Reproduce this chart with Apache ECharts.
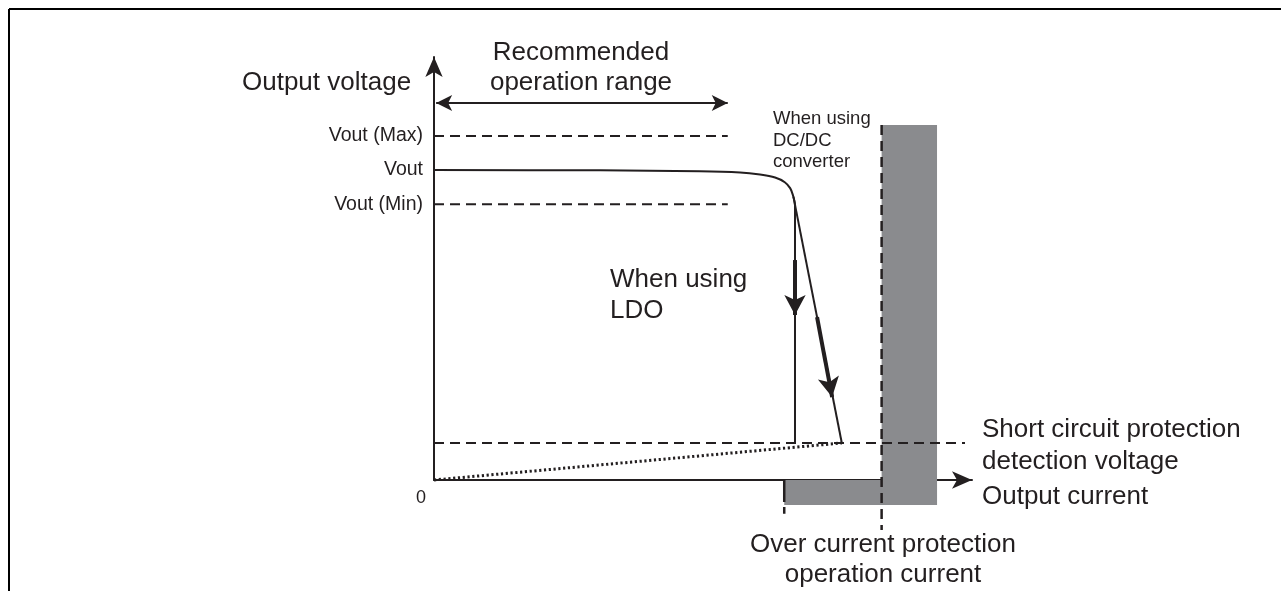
<!DOCTYPE html>
<html><head><meta charset="utf-8">
<script src="https://cdn.jsdelivr.net/npm/echarts@6/dist/echarts.min.js"></script>
<style>html,body{margin:0;padding:0;background:#fff}#c{width:1281px;height:591px}</style>
</head><body><div id="c"></div>
<script>
// ---- data (axis units: x 0..100 = output current, y 0..100 = output voltage) ----
const yTickValues = [65.2, 73.3, 81.3];
const yTickLabels = ['Vout (Min)', 'Vout', 'Vout (Max)'];
const originLabel = '0';
const recommendedRangeX = [0.4, 54.6];
const recommendedArrowY = 89.1;
const voutCurveX = [0, 30.9, 49.4, 56.9, 60.6, 63.4, 65.2, 66.2, 66.7, 67.1, 67.1];
const voutCurveY = [73.3, 73.2, 73.0, 72.7, 72.2, 71.5, 70.4, 69.0, 67.4, 65.0, 8.75];
const dcdcX = [66.8, 75.8];
const dcdcY = [67.0, 8.75];
const shortCircuitY = 8.75;
const shortCircuitXEnd = 98.7;
const foldbackX = [0, 75.8];
const foldbackY = [0, 8.75];
const ldoArrowX = [67.1, 67.1];
const ldoArrowY = [52.0, 39.0];
const dcdcArrowX = [71.2, 74.0];
const dcdcArrowY = [38.5, 19.6];
const ocpX = 83.2;
const ocpLowX = 65.1;
const grayTop = 83.9, grayBottom = -5.9, grayRight = 93.5;
const ocpLineTop = 83.9, ocpLineBottom = -11.8, ocpLowBottom = -8.0;

const INK = '#231f20';
const FONT = "'Liberation Sans', Arial, Helvetica, sans-serif";
const GRAY = '#8a8b8e';

const zip = (xs, ys) => xs.map((x, i) => [x, ys[i]]);
const dashed = { color: INK, width: 2, type: [10, 6] };

const chart = echarts.init(document.getElementById('c'));
chart.setOption({
  animation: false,
  backgroundColor: '#fff',
  grid: { left: 434, top: 57, width: 538, height: 423, containLabel: false },
  xAxis: {
    type: 'value', min: 0, max: 100,
    axisLine: { show: true, lineStyle: { color: INK, width: 2 }, symbol: ['none', 'arrow'], symbolSize: [13, 20], symbolOffset: [0, 0] },
    axisTick: { show: false }, splitLine: { show: false },
    axisLabel: { show: true, customValues: [0], formatter: () => originLabel, align: 'right', padding: [0, 8, 0, 0], margin: 9, fontSize: 18, fontFamily: FONT, color: INK }
  },
  yAxis: {
    type: 'value', min: 0, max: 100,
    axisLine: { show: true, lineStyle: { color: INK, width: 2 }, symbol: ['none', 'arrow'], symbolSize: [13, 20], symbolOffset: [0, 0] },
    axisTick: { show: false }, splitLine: { show: false },
    axisLabel: {
      show: true, customValues: yTickValues,
      formatter: (v) => { const i = yTickValues.findIndex(t => Math.abs(t - v) < 1e-6); return i >= 0 ? yTickLabels[i] : ''; },
      margin: 11, fontSize: 19.5, fontFamily: FONT, color: INK
    }
  },
  series: [
    { // gray over-current regions
      type: 'custom', z: 1, silent: true,
      data: [[ocpX, grayTop, grayRight, grayBottom], [ocpLowX, 0, grayRight, grayBottom]],
      renderItem: (params, api) => {
        const p1 = api.coord([api.value(0), api.value(1)]);
        const p2 = api.coord([api.value(2), api.value(3)]);
        return { type: 'rect', shape: { x: p1[0], y: p1[1], width: p2[0] - p1[0], height: p2[1] - p1[1] }, style: { fill: GRAY } };
      }
    },
    { type: 'line', clip: false, symbol: 'none', z: 3, data: [[0, yTickValues[2]], [recommendedRangeX[1], yTickValues[2]]], lineStyle: dashed },
    { type: 'line', clip: false, symbol: 'none', z: 3, data: [[0, yTickValues[0]], [recommendedRangeX[1], yTickValues[0]]], lineStyle: dashed },
    { type: 'line', clip: false, symbol: 'none', z: 3, data: [[0, shortCircuitY], [shortCircuitXEnd, shortCircuitY]], lineStyle: dashed },
    { type: 'line', clip: false, symbol: 'none', z: 4, data: [[ocpX, ocpLineTop], [ocpX, ocpLineBottom]], lineStyle: { color: INK, width: 2.5, type: [10, 6] } },
    { type: 'line', clip: false, symbol: 'none', z: 4, data: [[ocpLowX, 0], [ocpLowX, ocpLowBottom]], lineStyle: { color: INK, width: 2.5, type: [22, 5] } },
    { type: 'line', clip: false, symbol: 'none', z: 5, data: zip(foldbackX, foldbackY), lineStyle: { color: INK, width: 3, type: [2.2, 2.6] } },
    { type: 'line', clip: false, symbol: 'none', z: 5, smooth: 0.3, data: zip(voutCurveX, voutCurveY), lineStyle: { color: INK, width: 2 } },
    { type: 'line', clip: false, symbol: 'none', z: 5, data: zip(dcdcX, dcdcY), lineStyle: { color: INK, width: 2 } },
    {
      type: 'line', clip: false, symbol: 'none', data: [], z: 6,
      markLine: {
        silent: true, animation: false, label: { show: false },
        symbol: ['none', 'arrow'], symbolSize: [16, 20],
        lineStyle: { color: INK, width: 4, type: 'solid' },
        data: [
          [{ coord: [ldoArrowX[0], ldoArrowY[0]] }, { coord: [ldoArrowX[1], ldoArrowY[1]] }],
          [{ coord: [dcdcArrowX[0], dcdcArrowY[0]] }, { coord: [dcdcArrowX[1], dcdcArrowY[1]] }],
          [{ coord: [recommendedRangeX[0], recommendedArrowY], symbol: 'arrow', symbolSize: [12, 16], lineStyle: { width: 2 } },
           { coord: [recommendedRangeX[1], recommendedArrowY], symbol: 'arrow', symbolSize: [12, 16] }]
        ]
      }
    }
  ],
  graphic: [
    { type: 'line', shape: { x1: 9, y1: 9, x2: 1281, y2: 9 }, style: { stroke: '#000', lineWidth: 2 } },
    { type: 'line', shape: { x1: 9, y1: 9, x2: 9, y2: 591 }, style: { stroke: '#000', lineWidth: 2 } },
    { type: 'text', x: 242, y: 83, style: { text: 'Output voltage', fill: INK, fontSize: 26, fontFamily: FONT, align: 'left', verticalAlign: 'middle' } },
    { type: 'text', x: 581, y: 68, style: { text: 'Recommended\noperation range', fill: INK, fontSize: 26, lineHeight: 30, fontFamily: FONT, align: 'center', verticalAlign: 'middle' } },
    { type: 'text', x: 773, y: 140.5, style: { text: 'When using\nDC/DC\nconverter', fill: INK, fontSize: 18.5, lineHeight: 21.5, fontFamily: FONT, align: 'left', verticalAlign: 'middle' } },
    { type: 'text', x: 610, y: 295, style: { text: 'When using\nLDO', fill: INK, fontSize: 26, lineHeight: 31, fontFamily: FONT, align: 'left', verticalAlign: 'middle' } },
    { type: 'text', x: 982, y: 446, style: { text: 'Short circuit protection\ndetection voltage', fill: INK, fontSize: 26, lineHeight: 32, fontFamily: FONT, align: 'left', verticalAlign: 'middle' } },
    { type: 'text', x: 982, y: 497, style: { text: 'Output current', fill: INK, fontSize: 26, fontFamily: FONT, align: 'left', verticalAlign: 'middle' } },
    { type: 'text', x: 883, y: 560, style: { text: 'Over current protection\noperation current', fill: INK, fontSize: 26, lineHeight: 30, fontFamily: FONT, align: 'center', verticalAlign: 'middle' } }
  ]
});
</script>
</body></html>
